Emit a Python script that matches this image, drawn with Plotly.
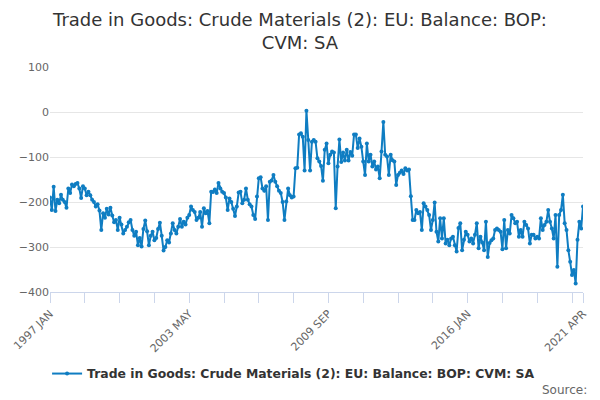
import pandas as pd
import plotly.graph_objects as go

title_text = "Trade in Goods: Crude Materials (2): EU: Balance: BOP:<br>CVM: SA"
series_name = "Trade in Goods: Crude Materials (2): EU: Balance: BOP: CVM: SA"

months = [d.strftime("%Y %b").upper() for d in pd.date_range("1997-01-01", "2021-04-01", freq="MS")]

v1997 = [-190, -218, -166, -220, -195, -203, -184, -195, -200, -213, -170, -180]
v1998 = [-161, -165, -160, -158, -170, -191, -165, -170, -185, -177, -185, -195]
v1999 = [-200, -210, -205, -219, -262, -225, -235, -215, -228, -213, -230, -245]
v2000 = [-240, -262, -235, -250, -270, -262, -255, -245, -240, -262, -275, -266]
v2001 = [-296, -280, -299, -260, -241, -265, -296, -275, -266, -285, -280, -260]
v2002 = [-246, -275, -308, -300, -285, -290, -270, -247, -262, -270, -255, -238]
v2003 = [-255, -244, -250, -235, -229, -210, -218, -222, -240, -235, -222, -255]
v2004 = [-214, -225, -220, -247, -177, -178, -172, -180, -158, -170, -177, -180]
v2005 = [-190, -218, -192, -200, -215, -231, -210, -179, -177, -203, -195, -170]
v2006 = [-195, -205, -210, -229, -238, -188, -147, -145, -170, -175, -165, -240]
v2007 = [-155, -152, -140, -155, -165, -175, -180, -200, -240, -199, -170, -185]
v2008 = [-190, -188, -125, -124, -50, -47, -55, -130, 3, -62, -130, -66]
v2009 = [-62, -66, -103, -110, -120, -153, -84, -70, -114, -95, -88, -90]
v2010 = [-214, -121, -61, -111, -90, -108, -84, -108, -89, -97, -50, -50]
v2011 = [-80, -59, -77, -110, -140, -70, -110, -95, -121, -110, -128, -121]
v2012 = [-147, -88, -22, -95, -99, -140, -95, -107, -110, -162, -140, -135]
v2013 = [-130, -138, -125, -130, -128, -187, -240, -240, -218, -225, -222, -262]
v2014 = [-203, -210, -218, -229, -262, -240, -201, -266, -288, -236, -281, -236]
v2015 = [-292, -284, -296, -281, -277, -296, -310, -258, -247, -307, -284, -266]
v2016 = [-273, -288, -281, -292, -273, -247, -303, -277, -290, -307, -244, -322]
v2017 = [-291, -285, -281, -262, -259, -262, -266, -305, -240, -303, -262, -270]
v2018 = [-229, -236, -247, -244, -277, -262, -277, -244, -251, -259, -292, -273]
v2019 = [-273, -281, -277, -281, -236, -262, -251, -244, -218, -244, -259, -281]
v2020 = [-229, -344, -229, -218, -184, -247, -262, -307, -333, -362, -351, -381]
v2021 = [-284, -244, -259, -210]

values = (v1997 + v1998 + v1999 + v2000 + v2001 + v2002 + v2003 + v2004 + v2005
          + v2006 + v2007 + v2008 + v2009 + v2010 + v2011 + v2012 + v2013 + v2014
          + v2015 + v2016 + v2017 + v2018 + v2019 + v2020 + v2021)

tick_positions = list(range(0, len(months), 19)) + [len(months) - 1]
labelled = {0, 76, 152, 228, len(months) - 1}
tick_vals = [months[i] for i in tick_positions]
tick_text = [months[i] if i in labelled else "" for i in tick_positions]

y_ticks = [100, 0, -100, -200, -300, -400]

FONT = "DejaVu Sans, Liberation Sans, sans-serif"
COLOR = "#0f7dc2"

fig = go.Figure()
fig.add_trace(go.Scatter(
    x=months, y=values, name=series_name, mode="lines+markers",
    line=dict(color=COLOR, width=2),
    marker=dict(color=COLOR, size=4),
    showlegend=True,
))

fig.update_layout(
    width=600, height=400,
    paper_bgcolor="white", plot_bgcolor="white",
    margin=dict(l=50, r=17, t=67, b=108, autoexpand=False),
    font=dict(family=FONT, color="#666666"),
    title=dict(text=title_text, x=0.5, xanchor="center", y=0.935, yanchor="middle",
               yref="container", automargin=False,
               font=dict(family=FONT, size=18, color="#333333")),
    xaxis=dict(
        type="category", categoryorder="array", categoryarray=months,
        range=[0, len(months) - 1], automargin=False,
        tickmode="array", tickvals=tick_vals, ticktext=tick_text,
        tickangle=-45, ticks="outside", ticklen=10, tickcolor="#ccd6eb",
        showline=True, linecolor="#ccd6eb", linewidth=1,
        showgrid=False, zeroline=False,
        tickfont=dict(family=FONT, size=11, color="#666666"),
    ),
    yaxis=dict(
        range=[-400, 100], tickmode="array", tickvals=y_ticks, automargin=False,
        showgrid=True, gridcolor="#e6e6e6", gridwidth=1,
        zeroline=False, showline=False, ticks="",
        tickfont=dict(family=FONT, size=11, color="#666666"),
    ),
    legend=dict(
        orientation="h", x=0.457, xanchor="center", y=0.065, yanchor="middle",
        yref="container",
        font=dict(family=FONT, size=12.4, color="#333333", weight="bold"),
        itemwidth=30,
    ),
    annotations=[dict(
        text="Source:", xref="paper", yref="paper", x=1.011, y=-0.436,
        xanchor="right", yanchor="middle", showarrow=False,
        font=dict(family=FONT, size=12, color="#666666"),
    )],
)

fig.write_html("out.html", config={"displayModeBar": False},
               post_script="document.body.style.margin='0';document.body.style.padding='0';")
